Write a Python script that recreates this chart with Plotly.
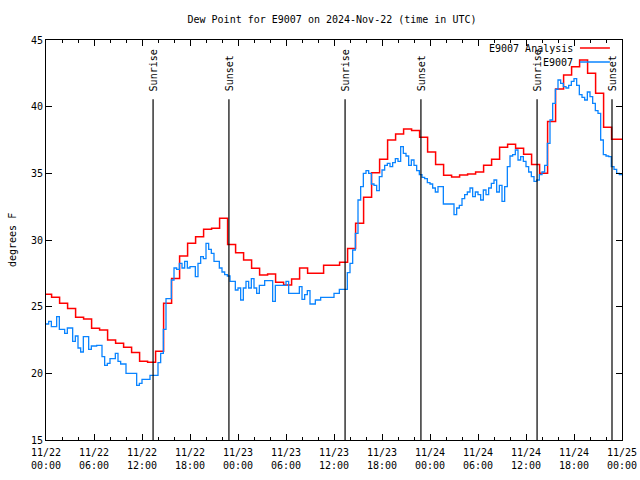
import numpy as np
import pandas as pd
import plotly.graph_objects as go

# ---------------- data ----------------
start = pd.Timestamp("2024-11-22 00:00")

# Analysis (hourly steps; each value begins ~0.3 h before the hour)
analysis_values = [
    25.93, 25.7, 25.25, 24.87, 24.2, 24.07, 23.38, 23.25, 22.5, 22.25,
    21.95, 21.57, 20.9, 20.83, 21.65, 25.25, 27.12, 28.8, 29.75, 30.25,
    30.8, 30.88, 31.63, 29.67, 29.05, 28.5, 27.88, 27.38, 27.45, 26.83,
    26.63, 27.07, 27.9, 27.5, 27.5, 28.1, 28.1, 28.33, 29.37, 31.25,
    33.2, 35.05, 36.05, 37.5, 37.95, 38.33, 38.22, 37.7, 36.6, 35.67,
    34.85, 34.73, 34.88, 34.95, 35.1, 35.6, 36.05, 36.95, 37.18, 36.88,
    36.43, 35.67, 35.0, 38.88, 41.33, 42.38, 43.0, 43.5, 42.5, 41.0,
    38.45, 37.55, 37.55,
]

# Observations every 20 minutes from 11/22 00:00 to 11/25 00:00
obs_values = [
    23.7, 23.9, 23.5, 23.5, 24.25, 23.3, 23.3, 23.0, 23.4, 23.4, 22.4, 22.8,
    21.9, 21.6, 22.75, 22.75, 21.8, 22.05, 22.05, 22.1, 22.1, 21.25, 20.6, 20.75,
    21.1, 21.1, 21.5, 20.9, 20.7, 20.7, 20.0, 20.0, 20.0, 20.0, 19.1, 19.25,
    19.55, 19.55, 19.55, 19.85, 19.85, 19.85, 20.8, 21.5, 23.3, 25.6, 25.6, 27.0,
    27.9, 27.8, 28.25, 27.9, 28.4, 27.9, 28.0, 28.0, 27.25, 28.25, 28.75, 28.6,
    29.75, 29.3, 29.0, 28.4, 28.4, 27.9, 27.6, 27.4, 27.3, 26.9, 26.9, 26.25,
    26.4, 25.5, 26.4, 26.9, 26.4, 27.1, 26.4, 26.0, 26.6, 26.6, 26.95, 26.95,
    26.95, 25.4, 26.6, 26.6, 26.6, 26.6, 26.9, 26.0, 26.0, 26.0, 26.0, 26.5,
    25.55, 25.9, 26.2, 25.2, 25.2, 25.5, 25.5, 25.7, 25.7, 25.7, 25.7, 25.7,
    26.0, 26.0, 26.3, 26.3, 26.3, 27.55, 28.25, 29.25, 30.5, 33.0, 34.0, 35.0,
    35.2, 35.0, 34.2, 34.1, 33.7, 34.75, 35.25, 35.6, 35.75, 35.5, 35.8, 36.1,
    35.9, 37.0, 36.5, 36.3, 35.6, 36.0, 35.6, 35.2, 34.9, 34.7, 34.6, 34.3,
    34.2, 33.9, 33.6, 34.0, 34.0, 32.7, 32.7, 32.7, 32.7, 31.9, 32.4, 32.6,
    33.1, 33.4, 33.6, 33.9, 33.25, 33.6, 33.4, 33.0, 33.75, 33.4, 33.9, 34.25,
    34.5, 33.6, 34.1, 32.9, 34.0, 35.5, 36.3, 36.4, 36.75, 36.0, 36.25, 35.9,
    35.5, 35.1, 34.75, 34.4, 34.5, 34.9, 35.1, 35.6, 37.25, 39.0, 40.25, 41.3,
    42.0, 41.75, 41.5, 41.4, 41.6, 41.9, 42.1, 41.6, 40.9, 40.7, 40.5, 41.1,
    40.75, 40.25, 39.7, 39.5, 37.5, 36.4, 36.3, 36.25, 35.5, 35.3, 35.0, 34.9,
    35.0,
]

sun_labels = ["Sunrise", "Sunset", "Sunrise", "Sunset", "Sunrise", "Sunset"]
sun_times = ["2024-11-22 13:23", "2024-11-22 22:52", "2024-11-23 13:23",
             "2024-11-23 22:52", "2024-11-24 13:23", "2024-11-24 22:45"]

tick_times = pd.date_range("2024-11-22 00:00", "2024-11-25 00:00", freq="6h")
tick_text = [t.strftime("%m/%d<br>%H:%M") for t in tick_times]

# ---------------- build ----------------
obs_times = start + pd.to_timedelta(np.arange(len(obs_values)) * 20, unit="min")

a_hours = [0.0] + [j - 0.3 for j in range(1, len(analysis_values))]
a_times = list(start + pd.to_timedelta(a_hours, unit="h"))
a_vals = list(analysis_values)
a_times.append(pd.Timestamp("2024-11-25 00:00"))
a_vals.append(analysis_values[-1])

FONT = "DejaVu Sans Mono"
RED = "#ff0000"
BLUE = "#0a84ff"

W, H = 640, 480

fig = go.Figure()
fig.add_trace(go.Scatter(x=a_times, y=a_vals, mode="lines", line_shape="hv",
                         line=dict(color=RED, width=1.5), name="E9007 Analysis",
                         showlegend=False))
fig.add_trace(go.Scatter(x=obs_times, y=obs_values, mode="lines", line_shape="hv",
                         line=dict(color=BLUE, width=1.3), name="E9007",
                         showlegend=False))

for lab, t in zip(sun_labels, sun_times):
    fig.add_shape(type="line", xref="x", yref="y", x0=t, x1=t, y0=15, y1=40.55,
                  line=dict(color="black", width=1.2))
    fig.add_annotation(x=t, y=41.0, xref="x", yref="y", text=lab, textangle=-90,
                       showarrow=False, xanchor="center", yanchor="bottom",
                       font=dict(family=FONT, size=10, color="black"))

# legend (gnuplot style: text then sample line)
leg = [("E9007 Analysis", RED, 0.98), ("E9007", BLUE, 0.945)]
for txt, col, yp in leg:
    fig.add_annotation(x=0.918, y=yp, xref="paper", yref="paper", text=txt,
                       showarrow=False, xanchor="right", yanchor="middle",
                       font=dict(family=FONT, size=10, color="black"))
    fig.add_shape(type="line", xref="paper", yref="paper", x0=0.927, x1=0.979,
                  y0=yp, y1=yp, line=dict(color=col, width=1.5))

fig.add_annotation(x=(12 - 46) / 576, y=0.5, xref="paper", yref="paper", text="degrees F",
                   textangle=-90, showarrow=False, xanchor="center", yanchor="middle",
                   font=dict(family=FONT, size=10, color="black"))

fig.update_layout(
    width=W, height=H,
    margin=dict(l=46, r=18, t=40, b=40, autoexpand=False),
    paper_bgcolor="white", plot_bgcolor="white",
    font=dict(family=FONT, size=10, color="black"),
    title=dict(text="Dew Point for E9007 on 2024-Nov-22 (time in UTC)",
               x=332 / W, xanchor="center", xref="container",
               y=1 - 19 / H, yanchor="middle", yref="container",
               font=dict(family=FONT, size=10, color="black")),
    showlegend=False,
)
fig.update_xaxes(
    type="date", range=["2024-11-22 00:00", "2024-11-25 00:00"],
    tickmode="array", tickvals=list(tick_times), ticktext=tick_text,
    ticks="inside", ticklen=6, tickcolor="black", tickwidth=1,
    showline=True, linecolor="black", linewidth=1, mirror="ticks",
    showgrid=False, zeroline=False, automargin=False, ticklabelstandoff=3,
    ticklabeloverflow="allow",
    minor=dict(dtick=2 * 3600 * 1000, ticks="inside", ticklen=3,
               tickcolor="black", showgrid=False),
    tickfont=dict(family=FONT, size=10, color="black"),
)
fig.update_yaxes(
    range=[15, 45], dtick=5, tick0=15,
    ticks="inside", ticklen=6, tickcolor="black", tickwidth=1,
    showline=True, linecolor="black", linewidth=1, mirror="ticks",
    showgrid=False, zeroline=False, automargin=False,
    tickfont=dict(family=FONT, size=10, color="black"),
)

fig.write_html(
    "out.html",
    config={"displayModeBar": False},
    post_script=("document.documentElement.style.overflow='hidden';"
                 "document.body.style.margin='0';"
                 "document.body.style.overflow='hidden';"),
)
